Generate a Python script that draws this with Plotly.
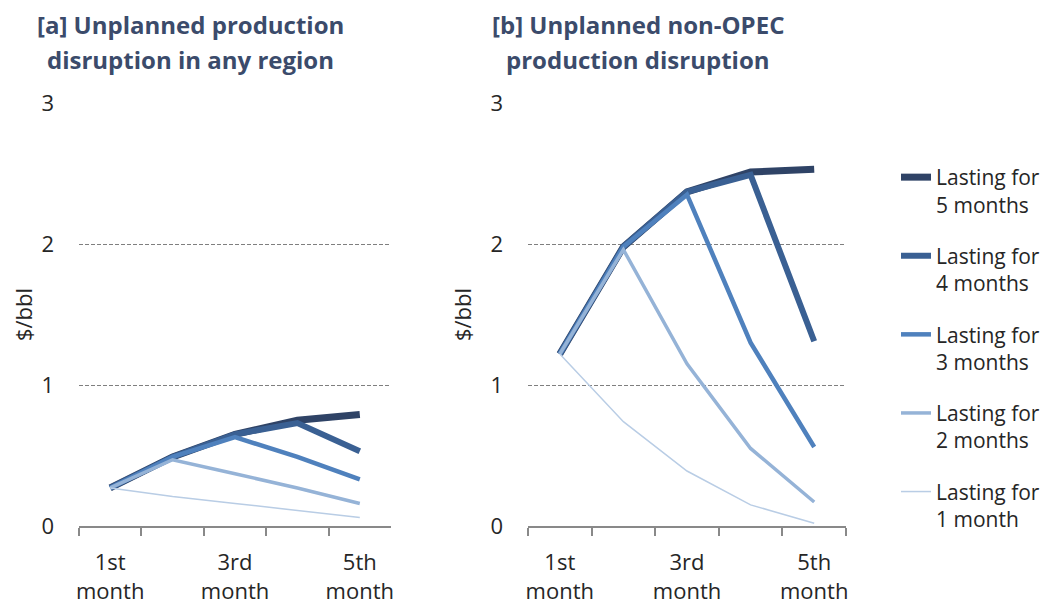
import plotly.graph_objects as go

months = ["1st month", "2nd month", "3rd month", "4th month", "5th month"]
tick_text = ["1st<br>month", "", "3rd<br>month", "", "5th<br>month"]

series_names = [
    "Lasting for<br>5 months",
    "Lasting for<br>4 months",
    "Lasting for<br>3 months",
    "Lasting for<br>2 months",
    "Lasting for<br>1 month",
]

# [a] any region, $/bbl
any_5m = [0.27, 0.49, 0.65, 0.75, 0.79]
any_4m = [0.27, 0.49, 0.65, 0.73, 0.53]
any_3m = [0.27, 0.49, 0.63, 0.49, 0.33]
any_2m = [0.27, 0.47, 0.37, 0.27, 0.16]
any_1m = [0.27, 0.21, 0.16, 0.11, 0.06]

# [b] non-OPEC, $/bbl
nop_5m = [1.22, 1.98, 2.37, 2.51, 2.53]
nop_4m = [1.22, 1.98, 2.37, 2.49, 1.31]
nop_3m = [1.22, 1.98, 2.35, 1.30, 0.56]
nop_2m = [1.22, 1.96, 1.15, 0.55, 0.17]
nop_1m = [1.22, 0.74, 0.39, 0.15, 0.02]

colors = ["#2f4366", "#3a6093", "#4f81bd", "#95b3d7", "#b9cde5"]
widths = [7, 6, 4.5, 3.5, 1.5]

FONT = "Open Sans"
TITLE_COLOR = "#3b4b6b"
TEXT_COLOR = "#262626"

# the page body has an 8px margin, so the figure is placed 8px in from the corner
W, H, OFF = 1044, 597, 8


def px_x(v):
    return (v - OFF) / W


def px_y(v):
    return 1 - (v - OFF) / H


fig = go.Figure()

panels = [
    ([any_5m, any_4m, any_3m, any_2m, any_1m], "x", "y", False),
    ([nop_5m, nop_4m, nop_3m, nop_2m, nop_1m], "x2", "y2", True),
]
for data, xa, ya, show in panels:
    for i, vals in enumerate(data):
        fig.add_trace(
            go.Scatter(
                x=months,
                y=vals,
                mode="lines",
                name=series_names[i],
                legendgroup=f"g{i}",
                showlegend=show,
                line=dict(color=colors[i], width=widths[i]),
                xaxis=xa,
                yaxis=ya,
                hoverinfo="skip",
            )
        )

xaxis_style = dict(
    type="category",
    range=[-0.5, 4.5],
    tickmode="array",
    tickvals=months,
    ticktext=tick_text,
    tickson="boundaries",
    tickangle=0,
    ticks="outside",
    ticklen=8,
    tickwidth=1.5,
    tickcolor="#898989",
    showline=True,
    linecolor="#898989",
    linewidth=1.5,
    showgrid=False,
    zeroline=False,
    ticklabelstandoff=16,
    tickfont=dict(family=FONT, size=22, color=TEXT_COLOR),
    automargin=False,
    fixedrange=True,
)
yaxis_style = dict(
    range=[0, 3],
    tickvals=[0, 1, 2, 3],
    showgrid=True,
    gridcolor="#7f7f7f",
    griddash="4px,2px",
    gridwidth=1,
    zeroline=False,
    showline=False,
    ticks="",
    ticklabelstandoff=24,
    tickfont=dict(family=FONT, size=22, color=TEXT_COLOR),
    title=dict(text="$/bbl", font=dict(family=FONT, size=22, color=TEXT_COLOR), standoff=12),
    automargin=False,
    fixedrange=True,
)

fig.update_layout(
    width=W,
    height=H,
    margin=dict(l=0, r=0, t=0, b=0, autoexpand=False),
    paper_bgcolor="white",
    plot_bgcolor="white",
    font=dict(family=FONT),
    xaxis=dict(domain=[px_x(79), px_x(391)], anchor="y", **xaxis_style),
    yaxis=dict(domain=[px_y(526), px_y(103)], anchor="x", **yaxis_style),
    xaxis2=dict(domain=[px_x(528), px_x(846)], anchor="y2", **xaxis_style),
    yaxis2=dict(domain=[px_y(526), px_y(103)], anchor="x2", **yaxis_style),
    legend=dict(
        x=888 / W,
        y=1 - 149 / H,
        xanchor="left",
        yanchor="top",
        valign="top",
        tracegroupgap=21,
        font=dict(family=FONT, size=21, color=TEXT_COLOR),
        bgcolor="rgba(0,0,0,0)",
    ),
    showlegend=True,
)

titles = [
    (190, "[a] Unplanned production", "disruption in any region"),
    (638, "[b] Unplanned non-OPEC", "production disruption"),
]
for cx, l1, l2 in titles:
    for ty, txt in [(25, l1), (59, l2)]:
        fig.add_annotation(
            x=px_x(cx),
            y=px_y(ty),
            xref="paper",
            yref="paper",
            text=f"<b>{txt}</b>",
            showarrow=False,
            xanchor="center",
            yanchor="middle",
            font=dict(family=FONT, size=24, color=TITLE_COLOR),
        )

fig.write_html("out.html")
